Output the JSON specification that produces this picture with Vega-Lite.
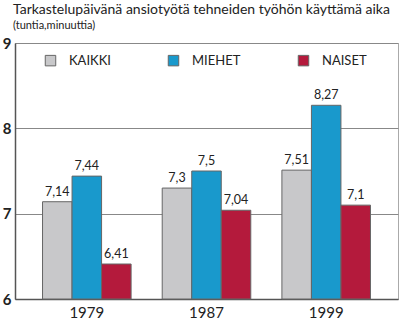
{
  "$schema": "https://vega.github.io/schema/vega-lite/v6.json",
  "width": 400,
  "height": 321,
  "autosize": {"type": "fit", "contains": "padding"},
  "padding": {"left": 2, "top": 3, "right": 2, "bottom": 1},
  "title": {
    "text": "Tarkastelupäivänä ansiotyötä tehneiden työhön käyttämä aika",
    "subtitle": "(tuntia,minuuttia)",
    "anchor": "start",
    "frame": "group",
    "dx": -2,
    "offset": 5,
    "font": "Lato",
    "fontSize": 14,
    "fontWeight": "normal",
    "color": "#222",
    "subtitleFont": "Lato",
    "subtitleFontSize": 11,
    "subtitleColor": "#222",
    "subtitlePadding": 3
  },
  "config": {
    "locale": {"number": {"decimal": ",", "thousands": " ", "grouping": [3], "currency": ["", ""]}},
    "view": {"stroke": "#aaa", "strokeWidth": 1},
    "font": "Lato"
  },
  "data": {
    "values": [
      {"vuosi": "1979", "ryhma": "KAIKKI", "arvo": 7.14},
      {"vuosi": "1979", "ryhma": "MIEHET", "arvo": 7.44},
      {"vuosi": "1979", "ryhma": "NAISET", "arvo": 6.41},
      {"vuosi": "1987", "ryhma": "KAIKKI", "arvo": 7.3},
      {"vuosi": "1987", "ryhma": "MIEHET", "arvo": 7.5},
      {"vuosi": "1987", "ryhma": "NAISET", "arvo": 7.04},
      {"vuosi": "1999", "ryhma": "KAIKKI", "arvo": 7.51},
      {"vuosi": "1999", "ryhma": "MIEHET", "arvo": 8.27},
      {"vuosi": "1999", "ryhma": "NAISET", "arvo": 7.1}
    ]
  },
  "encoding": {
    "x": {
      "field": "vuosi",
      "type": "nominal",
      "scale": {"paddingInner": 0.26, "paddingOuter": 0.23},
      "axis": {
        "title": null,
        "labelAngle": 0,
        "ticks": false,
        "labelFontSize": 15,
        "labelColor": "#222",
        "labelPadding": 6,
        "domainColor": "#555",
        "domainWidth": 1.5
      }
    },
    "xOffset": {
      "field": "ryhma",
      "type": "nominal",
      "scale": {"domain": ["KAIKKI", "MIEHET", "NAISET"], "paddingInner": 0, "paddingOuter": 0}
    },
    "y": {
      "field": "arvo",
      "type": "quantitative",
      "scale": {"domain": [6, 9], "nice": false, "zero": false},
      "axis": {
        "title": null,
        "values": [6, 7, 8, 9],
        "ticks": false,
        "labelFontSize": 15,
        "labelFontWeight": "bold",
        "labelColor": "#222",
        "labelPadding": 4,
        "domainColor": "#555",
        "domainWidth": 1.5,
        "grid": true,
        "gridColor": "#888",
        "gridWidth": 1,
        "format": "d"
      }
    }
  },
  "layer": [
    {
      "mark": {"type": "bar", "stroke": "#666", "strokeWidth": 1},
      "encoding": {
        "y2": {"datum": 6},
        "color": {
          "field": "ryhma",
          "type": "nominal",
          "scale": {"domain": ["KAIKKI", "MIEHET", "NAISET"], "range": ["#c8c8ca", "#1999cc", "#b41a3c"]},
          "legend": {
            "title": null,
            "orient": "none",
            "legendX": 29,
            "legendY": 11,
            "direction": "horizontal",
            "columns": 3,
            "columnPadding": 55,
            "symbolType": "square",
            "symbolSize": 110,
            "symbolStrokeColor": "#666",
            "symbolStrokeWidth": 1,
            "labelFontSize": 13,
            "labelColor": "#222",
            "labelOffset": 12
          }
        }
      }
    },
    {
      "mark": {"type": "text", "baseline": "bottom", "dy": -3, "fontSize": 12.5, "color": "#222"},
      "encoding": {
        "text": {"field": "arvo", "type": "quantitative", "format": "~"}
      }
    }
  ]
}
